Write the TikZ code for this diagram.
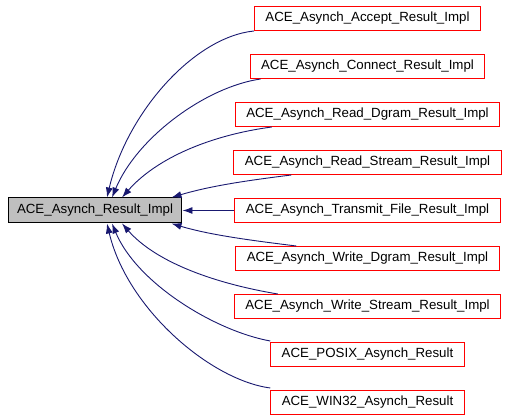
\documentclass[tikz,border=0pt]{standalone}
\usepackage{fontspec}
\setmainfont{Liberation Sans}
\usetikzlibrary{arrows.meta, positioning}
\definecolor{edgeblue}{RGB}{25,25,112}
\definecolor{basegray}{RGB}{191,191,191}
\definecolor{linkred}{RGB}{255,0,0}

\begin{document}
\begin{tikzpicture}[x=1pt, y=-1pt, font=\fontsize{13.3}{15}\selectfont,
	basebox/.style={rectangle, draw=black, fill=basegray, line width=1pt, minimum height=25pt, inner xsep=9pt},
	derived/.style={rectangle, draw=linkred, line width=1pt, minimum height=24pt, inner xsep=11pt},
	edge/.style={draw=edgeblue, line width=0.9pt, <-, >={Latex[length=10pt, width=7pt]}},
	node distance=23pt]
	\useasboundingbox (0,0) rectangle (507,419);
	\node[basebox] (result) at (95,210.5) {ACE\_Asynch\_Result\_Impl};

	\node[derived] (accept) at (367.5,18.5) {ACE\_Asynch\_Accept\_Result\_Impl};
	\node[derived, below=of accept] (connect) {ACE\_Asynch\_Connect\_Result\_Impl};
	\node[derived, below=of connect] (readdgram) {ACE\_Asynch\_Read\_Dgram\_Result\_Impl};
	\node[derived, below=of readdgram] (readstream) {ACE\_Asynch\_Read\_Stream\_Result\_Impl};
	\node[derived, below=of readstream] (transmit) {ACE\_Asynch\_Transmit\_File\_Result\_Impl};
	\node[derived, below=of transmit] (writedgram) {ACE\_Asynch\_Write\_Dgram\_Result\_Impl};
	\node[derived, below=of writedgram] (writestream) {ACE\_Asynch\_Write\_Stream\_Result\_Impl};
	\node[derived, below=of writestream] (posix) {ACE\_POSIX\_Asynch\_Result};
	\node[derived, below=of posix] (win32) {ACE\_WIN32\_Asynch\_Result};

	% edges above the base box
	\draw[edge] ([xshift=12pt]result.north) .. controls +(20,-85) and +(-60,6) .. (accept.south west);
	\draw[edge] ([xshift=17pt]result.north) .. controls +(25,-60) and +(-55,8) .. ([xshift=11pt]connect.south west);
	\draw[edge] ([xshift=27pt]result.north) .. controls +(35,-40) and +(-60,8) .. ([xshift=37pt]readdgram.south west);
	\draw[edge] ([xshift=-11pt]result.north east) .. controls +(40,-12) and +(-40,5) .. ([xshift=58pt]readstream.south west);
	\draw[edge] (result.east) -- (transmit.west);
	% edges below the base box
	\draw[edge] ([xshift=-11pt]result.south east) .. controls +(40,12) and +(-40,-5) .. ([xshift=61pt]writedgram.north west);
	\draw[edge] ([xshift=27pt]result.south) .. controls +(35,40) and +(-60,-10) .. ([xshift=44pt]writestream.north west);
	\draw[edge] ([xshift=17pt]result.south) .. controls +(25,60) and +(-55,-10) .. ([yshift=1pt]posix.north west);
	\draw[edge] ([xshift=12pt]result.south) .. controls +(20,85) and +(-60,-8) .. ([yshift=2pt]win32.north west);
\end{tikzpicture}
\end{document}
